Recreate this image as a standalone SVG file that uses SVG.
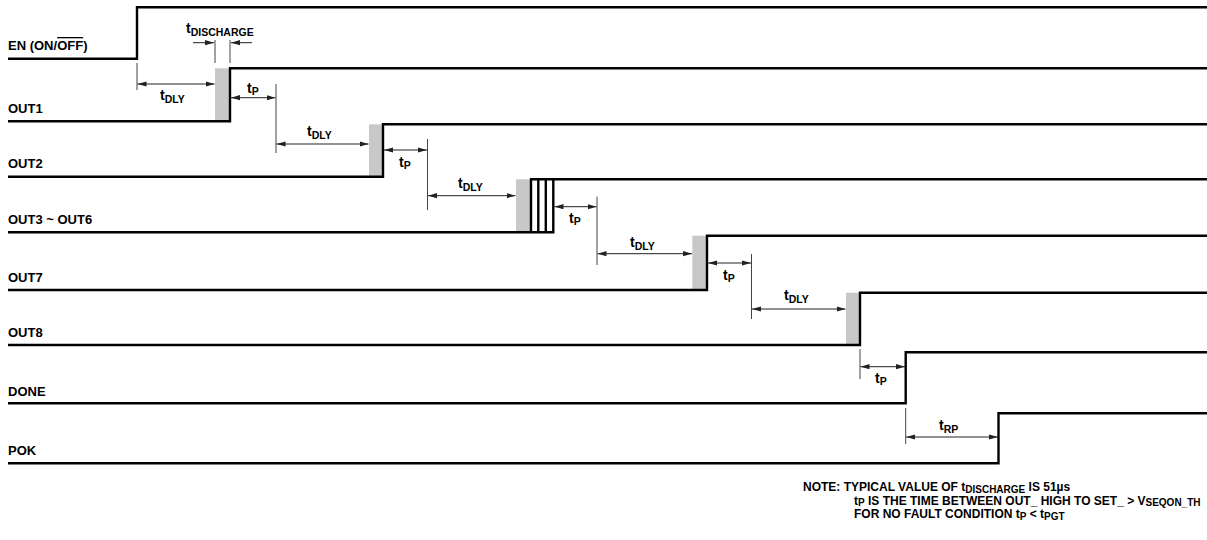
<svg xmlns="http://www.w3.org/2000/svg" width="1207" height="540" viewBox="0 0 1207 540">
<style>
text{font-family:"Liberation Sans",Arial,sans-serif;font-weight:bold;fill:#000}
.lbl{font-size:13px}
.tm{font-size:14px}
.sub{font-size:10.5px}
.note{font-size:12px}
.nsub{font-size:10px}
.wave{fill:none;stroke:#000;stroke-width:2.4}
.dis{fill:#c8c8c8;stroke:none}
.tick{stroke:#444;stroke-width:1}
.dim{stroke:#222;stroke-width:1;marker-start:url(#ah);marker-end:url(#ah)}
.one{stroke:#222;stroke-width:1;marker-end:url(#ah)}
</style>
<defs>
<marker id="ah" markerUnits="userSpaceOnUse" markerWidth="10" markerHeight="6" refX="9" refY="3" orient="auto-start-reverse">
<path d="M0,0.4 L9,3 L0,5.6 z" fill="#222"/>
</marker>
</defs>
<rect width="1207" height="540" fill="#fff"/>

<g id="sig-en">
<text class="lbl" x="8" y="50">EN (ON/<tspan style="text-decoration:overline">OFF</tspan>)</text>
<polyline class="wave" points="8,58.7 137,58.7 137,7.3 1207,7.3"/>
</g>
<g id="sig-out1">
<text class="lbl" x="8" y="112.5">OUT1</text>
<rect class="dis" x="215" y="68.3" width="15" height="53"/>
<polyline class="wave" points="8,121.3 230,121.3 230,68.3 1207,68.3"/>
</g>
<g id="sig-out2">
<text class="lbl" x="8" y="168.3">OUT2</text>
<rect class="dis" x="369" y="124.3" width="14" height="52.4"/>
<polyline class="wave" points="8,176.7 383,176.7 383,124.3 1207,124.3"/>
</g>
<g id="sig-out3">
<text class="lbl" x="8" y="223.5">OUT3 ~ OUT6</text>
<rect class="dis" x="516" y="179.3" width="15" height="53"/>
<polyline class="wave" points="8,232.3 553.3,232.3 553.3,179.3"/>
<polyline class="wave" points="531,232.3 531,179.3 1207,179.3"/>
<line class="wave" x1="538.3" y1="179.3" x2="538.3" y2="232.3" stroke-width="1.6"/>
<line class="wave" x1="545.8" y1="179.3" x2="545.8" y2="232.3" stroke-width="1.6"/>
</g>
<g id="sig-out7">
<text class="lbl" x="8" y="281.5">OUT7</text>
<rect class="dis" x="692.3" y="235.7" width="14.7" height="54.3"/>
<polyline class="wave" points="8,290 707,290 707,235.7 1207,235.7"/>
</g>
<g id="sig-out8">
<text class="lbl" x="8" y="336.5">OUT8</text>
<rect class="dis" x="846" y="292.7" width="14" height="52.3"/>
<polyline class="wave" points="8,345 860,345 860,292.7 1207,292.7"/>
</g>
<g id="sig-done">
<text class="lbl" x="8" y="395.5">DONE</text>
<polyline class="wave" points="8,403.3 905.7,403.3 905.7,352.3 1207,352.3"/>
</g>
<g id="sig-pok">
<text class="lbl" x="8" y="455">POK</text>
<polyline class="wave" points="8,463.3 998.5,463.3 998.5,413.3 1207,413.3"/>
</g>

<g id="connectors">
<line class="tick" x1="215" y1="40" x2="215" y2="63"/>
<line class="tick" x1="230" y1="40" x2="230" y2="63"/>
<line class="one" x1="193" y1="42.7" x2="214" y2="42.7"/>
<line class="one" x1="252" y1="42.7" x2="231" y2="42.7"/>
<line class="tick" x1="137" y1="63" x2="137" y2="90"/>
<line class="dim" x1="137.5" y1="84" x2="214.5" y2="84"/>
<line class="tick" x1="276" y1="84" x2="276" y2="153"/>
<line class="dim" x1="231" y1="97.7" x2="275.5" y2="97.7"/>
<line class="dim" x1="276.5" y1="144" x2="368.5" y2="144"/>
<line class="tick" x1="427.5" y1="139" x2="427.5" y2="210"/>
<line class="dim" x1="384" y1="150" x2="427" y2="150"/>
<line class="dim" x1="428" y1="195.7" x2="515.5" y2="195.7"/>
<line class="tick" x1="597" y1="196.7" x2="597" y2="265"/>
<line class="dim" x1="554.5" y1="206.7" x2="596.5" y2="206.7"/>
<line class="dim" x1="597.5" y1="253.7" x2="692" y2="253.7"/>
<line class="tick" x1="751.5" y1="254" x2="751.5" y2="319"/>
<line class="dim" x1="708" y1="263" x2="751" y2="263"/>
<line class="dim" x1="752" y1="309" x2="845.5" y2="309"/>
<line class="tick" x1="860" y1="349" x2="860" y2="379"/>
<line class="dim" x1="860.5" y1="366.7" x2="905" y2="366.7"/>
<line class="tick" x1="905.7" y1="408" x2="905.7" y2="444"/>
<line class="dim" x1="906.2" y1="437" x2="998" y2="437"/>
</g>

<g id="timing-labels">
<text class="tm" x="186" y="33">t<tspan class="sub" dy="2.5">DISCHARGE</tspan></text>
<text class="tm" x="160" y="100">t<tspan class="sub" dy="3">DLY</tspan></text>
<text class="tm" x="247" y="93">t<tspan class="sub" dy="2">P</tspan></text>
<text class="tm" x="307" y="136">t<tspan class="sub" dy="3">DLY</tspan></text>
<text class="tm" x="399" y="166.5">t<tspan class="sub" dy="2">P</tspan></text>
<text class="tm" x="458" y="188.3">t<tspan class="sub" dy="3">DLY</tspan></text>
<text class="tm" x="569" y="222.7">t<tspan class="sub" dy="2">P</tspan></text>
<text class="tm" x="630" y="246.7">t<tspan class="sub" dy="3">DLY</tspan></text>
<text class="tm" x="723" y="280">t<tspan class="sub" dy="2">P</tspan></text>
<text class="tm" x="784" y="300">t<tspan class="sub" dy="3">DLY</tspan></text>
<text class="tm" x="875" y="383">t<tspan class="sub" dy="2">P</tspan></text>
<text class="tm" x="939" y="430">t<tspan class="sub" dy="3">RP</tspan></text>
</g>

<g id="note">
<text class="note" x="803" y="491">NOTE: TYPICAL VALUE OF t<tspan class="nsub" dy="2">DISCHARGE</tspan><tspan dy="-2"> IS 51µs</tspan></text>
<text class="note" x="854" y="504.5">t<tspan class="nsub" dy="1.5">P</tspan><tspan dy="-1.5"> IS THE TIME BETWEEN OUT_ HIGH TO SET_ &gt; V</tspan><tspan class="nsub" dy="1.5">SEQON_TH</tspan></text>
<text class="note" x="854" y="518">FOR NO FAULT CONDITION t<tspan class="nsub" dy="1.5">P</tspan><tspan dy="-1.5"> &lt; t</tspan><tspan class="nsub" dy="1.5">PGT</tspan></text>
</g>
</svg>
